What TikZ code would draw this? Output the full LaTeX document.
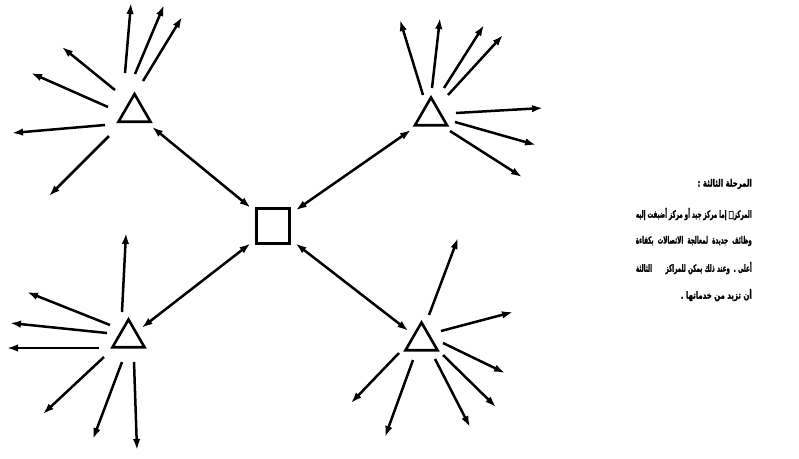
\documentclass[tikz,border=0pt]{standalone}
\usepackage{fontspec}
\newfontfamily\arabicfont[Script=Arabic,BoldFeatures={FakeBold=1.8}]{DejaVu Sans}
\TeXXeTstate=1
\usetikzlibrary{shapes.geometric,arrows.meta,calc}
\newcommand\arline[2]{\scalebox{#1}[1]{\arabicfont\bfseries\fontsize{10}{11}\selectfont #2}}
\begin{document}
\begin{tikzpicture}[x=1pt,y=-1pt,
  tri/.style={draw,regular polygon,regular polygon sides=3,minimum size=37pt,inner sep=0pt,line width=2.6pt},
  hub/.style={draw,rectangle,minimum width=33pt,minimum height=35pt,inner sep=0pt,line width=2.6pt},
  tip/.tip={Latex[length=11pt,width=7.5pt]},
  spoke/.style={line width=2.5pt,-tip},
  link/.style={line width=2.5pt,tip-tip,shorten <=6pt,shorten >=6pt},
  ar/.style={anchor=east,inner sep=0pt}]
\useasboundingbox (0,0) rectangle (799,458);

% hub and satellites
\node[hub] (sq) at (273,226) {};
\node[tri] (tl) at (134.5,112.5) {};
\node[tri] (tr) at (431,116) {};
\node[tri] (bl) at (128.5,338) {};
\node[tri] (br) at (421.5,341) {};

% links between hub and satellites
\draw[link] (tl) -- (sq);
\draw[link] (tr) -- (sq);
\draw[link] (bl) -- (sq);
\draw[link] (br) -- (sq);

% outgoing spokes
\foreach \n/\sx/\sy/\ex/\ey in {
  a1/125/73/131/3, a2/135/74/164/5, a3/143/81/182/17, a4/115/90/62/47,
  a5/108/107/31/73, a6/105/125/12/133, a7/109/136/49/196,
  b1/423/95/400/20, b2/432/88/440/18, b3/444/88/484/25, b4/448/95/503/35,
  b5/456/113/543/108, b6/455/122/536/145, b7/450/131/522/177,
  c1/122/312/126/233, c2/110/325/27/292, c3/107/333/10/323, c4/99/348/7/348,
  c5/104/357/43/414, c6/122/362/93/439, c7/134/362/137/450,
  d1/429/315/458/238, d2/441/331/513/312, d3/443/343/505/373, d4/443/355/496/407,
  d5/435/359/470/427, d6/413/360/385/437, d7/399/353/351/403}
{
  \coordinate (s\n) at (\sx,\sy);
  \coordinate (e\n) at (\ex,\ey);
  \draw[spoke] (s\n) -- (e\n);
}

% text
\node[ar] (h)  at (752,184) {\arline{0.7}{\beginR المرحلة الثالثة :\endR}};
\node[ar] (l1) at (752,214) {\arline{0.56}{\hbox to 207pt{\beginR المركز□ إما مركز جيد أو مركز أضيفت إليه\endR}}};
\node[ar] (l2) at (752,241) {\arline{0.56}{\hbox to 207pt{\beginR وظائف جديدة لمعالجة الاتصالات بكفاءة\endR}}};
\node[ar] (l3) at (752,268) {\arline{0.56}{\hbox to 207pt{\beginR أعلى . وعند ذلك يمكن للمراكز\hspace{24pt}الثالثة\endR}}};
\node[ar] (l4) at (752,295) {\arline{0.7}{\beginR أن تزيد من خدماتها .\endR}};
\end{tikzpicture}
\end{document}
